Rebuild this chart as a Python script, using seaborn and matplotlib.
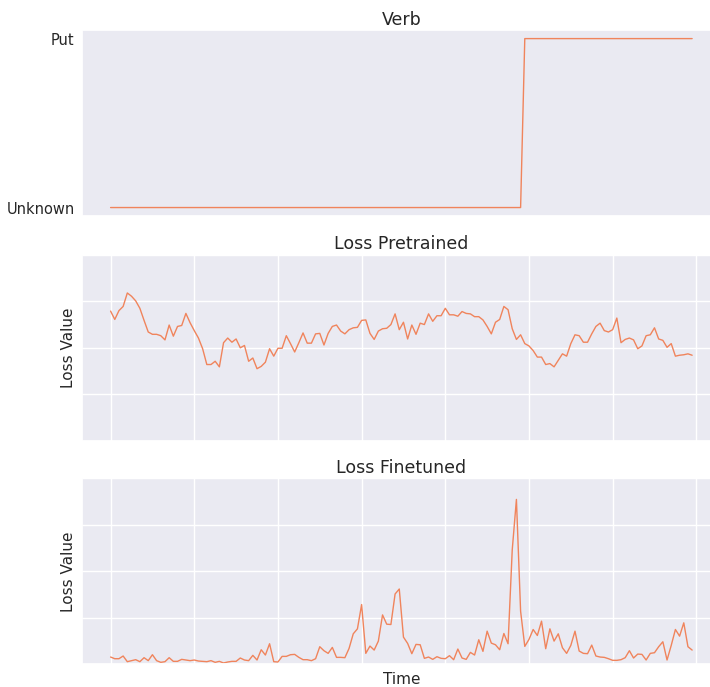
import numpy as np
import pandas as pd
import matplotlib
matplotlib.use("Agg")
import matplotlib.pyplot as plt
import seaborn as sns

# Verb categories, bottom to top on the axis
verb_categories = ["Unknown", "Put"]

# Per-step verb label: "Unknown" for the first 99 steps, then "Put"
verb_labels = ["Unknown"] * 99 + ["Put"] * 41

loss_pretrained = [
    2.79, 2.61, 2.80, 2.89, 3.18, 3.11, 3.01, 2.85, 2.59, 2.34,
    2.29, 2.29, 2.26, 2.17, 2.49, 2.25, 2.46, 2.48, 2.74, 2.54,
    2.37, 2.21, 1.98, 1.64, 1.64, 1.71, 1.59, 2.11, 2.21, 2.12,
    2.19, 2.00, 2.05, 1.71, 1.78, 1.55, 1.60, 1.69, 1.98, 1.82,
    1.99, 1.99, 2.26, 2.09, 1.91, 2.11, 2.32, 2.10, 2.10, 2.30,
    2.31, 2.06, 2.31, 2.46, 2.49, 2.36, 2.30, 2.39, 2.43, 2.44,
    2.59, 2.60, 2.31, 2.18, 2.36, 2.41, 2.42, 2.50, 2.73, 2.39,
    2.55, 2.19, 2.49, 2.29, 2.53, 2.50, 2.73, 2.57, 2.69, 2.69,
    2.85, 2.71, 2.71, 2.68, 2.78, 2.74, 2.73, 2.67, 2.67, 2.60,
    2.46, 2.30, 2.55, 2.61, 2.89, 2.82, 2.41, 2.18, 2.28, 2.09,
    2.04, 1.94, 1.80, 1.80, 1.64, 1.66, 1.59, 1.73, 1.87, 1.82,
    2.09, 2.28, 2.26, 2.12, 2.12, 2.30, 2.46, 2.53, 2.37, 2.34,
    2.39, 2.64, 2.11, 2.18, 2.21, 2.17, 1.98, 2.04, 2.26, 2.28,
    2.43, 2.19, 2.16, 2.01, 2.09, 1.82, 1.84, 1.85, 1.87, 1.84,
]

loss_finetuned = [
    0.157, 0.121, 0.121, 0.179, 0.057, 0.079, 0.100, 0.057, 0.143, 0.079,
    0.207, 0.079, 0.043, 0.057, 0.143, 0.064, 0.064, 0.107, 0.093, 0.079,
    0.093, 0.071, 0.064, 0.057, 0.079, 0.043, 0.064, 0.029, 0.050, 0.064,
    0.064, 0.136, 0.093, 0.079, 0.193, 0.093, 0.314, 0.200, 0.443, 0.057,
    0.050, 0.171, 0.171, 0.207, 0.214, 0.150, 0.100, 0.100, 0.079, 0.121,
    0.379, 0.293, 0.236, 0.364, 0.150, 0.150, 0.143, 0.343, 0.657, 0.764,
    1.286, 0.236, 0.393, 0.307, 0.500, 1.064, 0.864, 0.857, 1.514, 1.621,
    0.586, 0.450, 0.229, 0.429, 0.421, 0.129, 0.157, 0.107, 0.164, 0.129,
    0.121, 0.186, 0.100, 0.329, 0.136, 0.107, 0.257, 0.200, 0.529, 0.279,
    0.714, 0.457, 0.421, 0.314, 0.664, 0.443, 2.464, 3.550, 1.143, 0.386,
    0.536, 0.750, 0.621, 0.929, 0.336, 0.764, 0.500, 0.657, 0.357, 0.236,
    0.407, 0.714, 0.286, 0.236, 0.229, 0.414, 0.179, 0.157, 0.150, 0.121,
    0.086, 0.086, 0.100, 0.143, 0.293, 0.136, 0.221, 0.214, 0.093, 0.236,
    0.250, 0.379, 0.486, 0.093, 0.407, 0.750, 0.607, 0.893, 0.379, 0.307,
]

time_steps = np.arange(len(loss_pretrained))

df = pd.DataFrame({
    "Time": time_steps,
    "Verb": verb_labels,
    "Loss Pretrained": loss_pretrained,
    "Loss Finetuned": loss_finetuned,
})
df["Verb code"] = df["Verb"].map({v: i for i, v in enumerate(verb_categories)})

sns.set_theme(style="darkgrid")
line_color = "#F0845C"

fig = plt.figure(figsize=(7.1, 6.87), dpi=100)
left, width, height = 0.1148, 0.901, 0.2705
ax_verb = fig.add_axes([left, 0.6856, width, height])
ax_pre = fig.add_axes([left, 0.3585, width, height], sharex=ax_verb)
ax_fin = fig.add_axes([left, 0.0330, width, height], sharex=ax_verb)

# Verb track
sns.lineplot(data=df, x="Time", y="Verb code", ax=ax_verb, color=line_color,
             linewidth=1, estimator=None)
ax_verb.set_yticks(range(len(verb_categories)))
ax_verb.set_yticklabels(verb_categories)
ax_verb.tick_params(axis="y", labelsize=10.5, length=0, pad=5)
ax_verb.set_title("Verb", fontsize=12.5, pad=4)
ax_verb.set_xlabel("")
ax_verb.set_ylabel("")
ax_verb.grid(False)
ax_verb.tick_params(labelbottom=False)

# Loss tracks
for ax, col in [(ax_pre, "Loss Pretrained"), (ax_fin, "Loss Finetuned")]:
    sns.lineplot(data=df, x="Time", y=col, ax=ax, color=line_color,
                 linewidth=1, estimator=None)
    ax.set_title(col, fontsize=12.5, pad=4)
    ax.set_ylim(0, 4)
    ax.set_yticks([0, 1, 2, 3, 4])
    ax.tick_params(labelleft=False, labelbottom=False)
    ax.set_ylabel("Loss Value", fontsize=11)
    ax.set_xlabel("")

ax_fin.set_xticks(np.arange(0, 141, 20))
ax_fin.set_xlabel("Time", fontsize=11, labelpad=5.5)

fig.savefig("out.png", dpi=100)
